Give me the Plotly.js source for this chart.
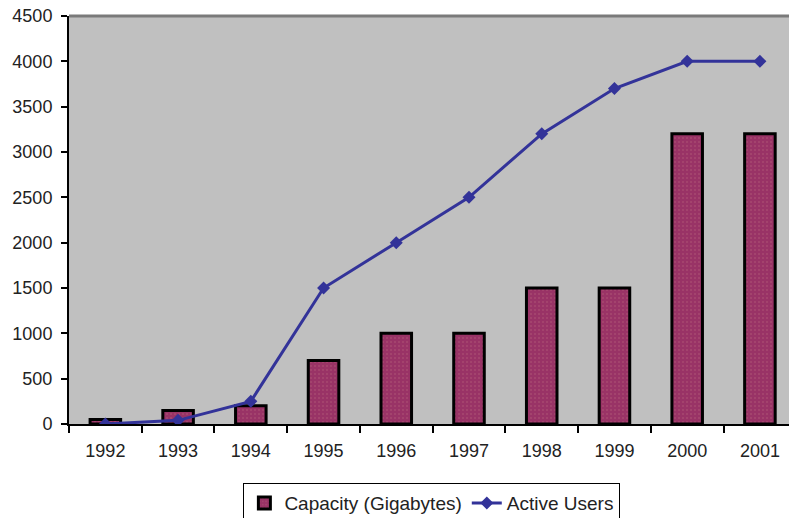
<!DOCTYPE html>
<html>
<head>
<meta charset="utf-8">
<script src="https://cdn.plot.ly/plotly-3.0.1.min.js"></script>
<style>html,body{margin:0;padding:0;background:#fff;}#chart{width:789px;height:518px;}</style>
</head>
<body>
<div id="chart"></div>
<script>
var years = ["1992","1993","1994","1995","1996","1997","1998","1999","2000","2001"];
var capacity = [50,150,200,700,1000,1000,1500,1500,3200,3200];
var activeUsers = [0,40,250,1500,2000,2500,3200,3700,4000,4000];
var yTicks = [0,500,1000,1500,2000,2500,3000,3500,4000,4500];

var font = {family: "Liberation Sans, Arial, sans-serif", size: 18, color: "#222"};

var traces = [
  {
    type: "bar", x: years, y: capacity, name: "Capacity (Gigabytes)",
    width: 0.42,
    marker: {color: "#993366", line: {color: "#000", width: 3},
             pattern: {shape: ".", fgcolor: "#a6486f", bgcolor: "#993366", size: 4, solidity: 0.2}}
  },
  {
    type: "scatter", mode: "lines+markers", x: years, y: activeUsers, name: "Active Users",
    line: {color: "#333399", width: 3},
    marker: {symbol: "diamond", size: 10, color: "#333399"}
  }
];

var layout = {
  width: 789, height: 518,
  margin: {l: 69, r: 0, t: 16, b: 94, autoexpand: false},
  paper_bgcolor: "#fff", plot_bgcolor: "#c0c0c0",
  font: font,
  showlegend: true,
  legend: {orientation: "h", x: 0.504, xanchor: "center", y: -0.145, yanchor: "top",
           bgcolor: "#fff", bordercolor: "#000", borderwidth: 1,
           font: {family: font.family, size: 19, color: "#222"}},
  xaxis: {type: "category", range: [-0.5, 9.4], showgrid: false, zeroline: false,
          showline: true, linecolor: "#000", linewidth: 2,
          ticks: "outside", tickson: "boundaries", ticklen: 7, tickcolor: "#000", tickwidth: 2,
          ticklabelstandoff: 9,
          tickfont: {family: font.family, size: 18, color: "#222"}, fixedrange: true},
  yaxis: {range: [0, 4500], tickvals: yTicks, showgrid: false, zeroline: false,
          showline: true, linecolor: "#000", linewidth: 2,
          ticks: "outside", ticklen: 6, tickcolor: "#000", tickwidth: 2,
          ticklabelstandoff: 5,
          tickfont: {family: font.family, size: 18, color: "#222"}, fixedrange: true},
  shapes: [
    {type: "line", xref: "paper", yref: "paper", x0: 0, x1: 1, y0: 1, y1: 1,
     line: {color: "#7a7a7a", width: 3}}
  ]
};

Plotly.newPlot("chart", traces, layout, {displayModeBar: false, staticPlot: true});
</script>
</body>
</html>
